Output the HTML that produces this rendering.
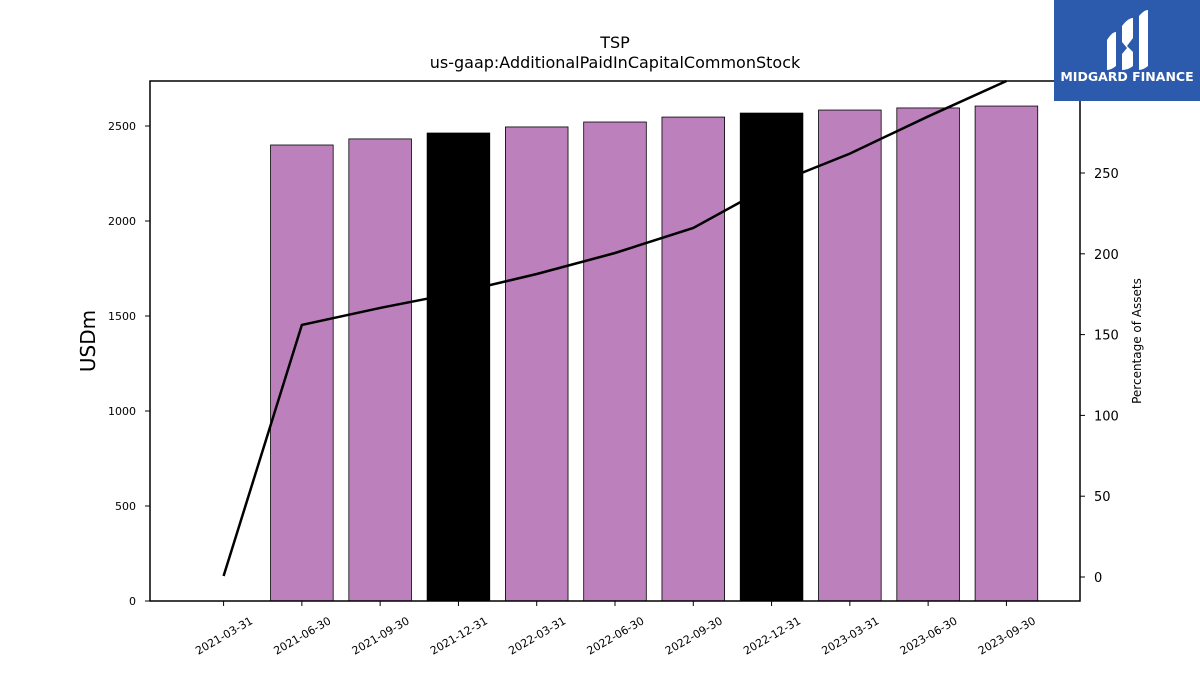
<!DOCTYPE html>
<html><head><meta charset="utf-8"><style>
body{margin:0;background:#fff;font-family:"Liberation Sans","DejaVu Sans",sans-serif}
svg text{font-family:"DejaVu Sans","Liberation Sans",sans-serif}
</style></head><body>
<svg id="c" width="1200" height="675" xmlns="http://www.w3.org/2000/svg">
<text x="615" y="48" font-size="16" text-anchor="middle">TSP</text>
<text x="615" y="68" font-size="16" text-anchor="middle">us-gaap:AdditionalPaidInCapitalCommonStock</text>
<g id="bars"></g><g id="line"></g><g id="axes"></g>
<g>
<rect x="1054" y="0" width="146" height="101" fill="#2c5aac"/>
<path d="M1107 40 Q1112 32 1116 32 L1116 66 Q1111 70 1107 70 Z" fill="#fff"/>
<path d="M1122 26 Q1128 18 1133 18 L1133 38 L1127 46 L1133 52 L1133 66 Q1128 70 1122 70 L1122 54 L1127 48 L1122 42 Z" fill="#fff"/>
<path d="M1139 16 Q1144 10 1148 10 L1148 66 Q1143 70 1139 70 Z" fill="#fff"/>
<text x="1127" y="81" font-size="12.5" font-weight="bold" fill="#fff" text-anchor="middle">MIDGARD FINANCE</text>
</g>
</svg>
<script>
const categories=["2021-03-31","2021-06-30","2021-09-30","2021-12-31","2022-03-31","2022-06-30","2022-09-30","2022-12-31","2023-03-31","2023-06-30","2023-09-30"];
const barValues=[null,2400,2432,2463,2495,2521,2547,2568,2584,2595,2605];
const pctValues=[0.6,156,166.5,176,187.5,200.5,216,242.6,262,285,307];
const leftTicks=[0,500,1000,1500,2000,2500];
const rightTicks=[0,50,100,150,200,250];
const NS="http://www.w3.org/2000/svg";
const L=150,R=1080,T=81,B=601;
const xs=i=>L+(i+0.94)/11.88*(R-L);
const yl=v=>B-v*0.19;
const yr=v=>577-v*1.616;
function mk(tag,attrs,parent,txt){const e=document.createElementNS(NS,tag);for(const k in attrs)e.setAttribute(k,attrs[k]);if(txt!==undefined)e.textContent=txt;parent.appendChild(e);return e;}
const bars=document.getElementById('bars'),line=document.getElementById('line'),axes=document.getElementById('axes');
const bw=0.8/11.88*(R-L);
barValues.forEach((v,i)=>{if(v==null)return;
 const dec=categories[i].endsWith('12-31');
 const r=mk('rect',{x:xs(i)-bw/2,y:yl(v),width:bw,height:B-yl(v),fill:dec?'#000':'#bc80bd',stroke:'#000','stroke-width':0.8},bars);
 
 
});
const pl=mk('polyline',{points:pctValues.map((v,i)=>xs(i)+','+Math.max(T,yr(v))).join(' '),fill:'none',stroke:'#000','stroke-width':2.5},line);


const fr=mk('rect',{x:L,y:T,width:R-L,height:B-T,fill:'none',stroke:'#000','stroke-width':1.5},axes);


leftTicks.forEach(v=>{const y=yl(v);
 mk('line',{x1:L-5,x2:L,y1:y,y2:y,stroke:'#000'},axes);
 const t=mk('text',{x:L-14,y:y+4,'font-size':11,'text-anchor':'end'},axes,String(v));
 
 
});
rightTicks.forEach(v=>{const y=yr(v);
 mk('line',{x1:R,x2:R+5,y1:y,y2:y,stroke:'#000'},axes);
 const t=mk('text',{x:R+14,y:y+5,'font-size':13},axes,String(v));
 
 
});
categories.forEach((c,i)=>{const x=xs(i);
 mk('line',{x1:x,x2:x,y1:B,y2:B+5,stroke:'#000'},axes);
 const t=mk('text',{x:x+30,y:B+22,'font-size':11,'text-anchor':'end',transform:`rotate(-30 ${x+30} ${B+22})`},axes,c);
 
 
});
const yt=mk('text',{x:95,y:341,'font-size':20,'text-anchor':'middle',transform:'rotate(-90 95 341)'},axes,'USDm');


const rt=mk('text',{x:1141,y:341,'font-size':12,'text-anchor':'middle',transform:'rotate(-90 1141 341)'},axes,'Percentage of Assets');


</script>
</body></html>
